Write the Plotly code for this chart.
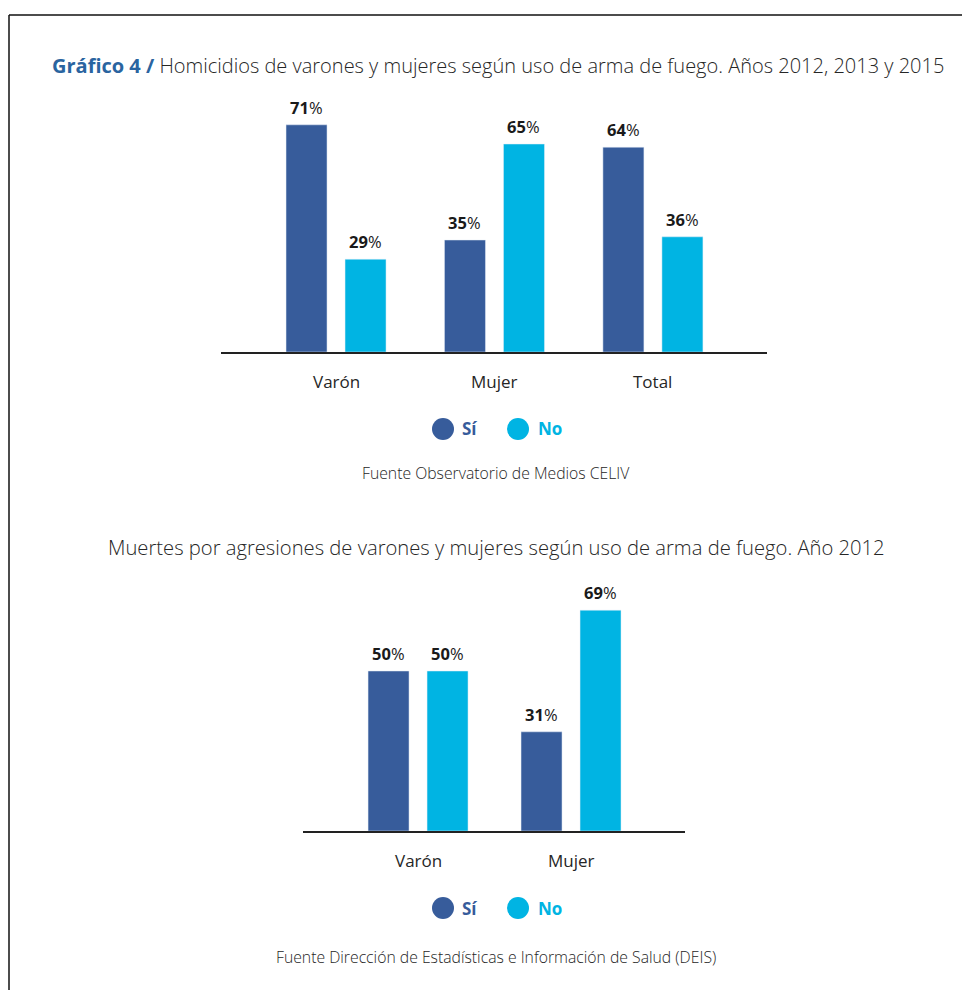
import plotly.graph_objects as go

# ---- data ----
cats1 = ["Varón", "Mujer", "Total"]
si1 = [71, 35, 64]
no1 = [29, 65, 36]

cats2 = ["Varón", "Mujer"]
si2 = [50, 31]
no2 = [50, 69]

series_names = ["Sí", "No"]
title1_bold = "Gráfico 4 /"
title1 = "Homicidios de varones y mujeres según uso de arma de fuego. Años 2012, 2013 y 2015"
title2 = "Muertes por agresiones de varones y mujeres según uso de arma de fuego. Año 2012"
source1 = "Fuente Observatorio de Medios CELIV"
source2 = "Fuente Dirección de Estadísticas e Información de Salud (DEIS)"

# ---- style ----
W, H = 970, 990
PAGE_OFF = 8  # default body margin of the html page
C_SI = "#375C9B"
C_NO = "#00B4E3"
C_TITLE = "#2A64A0"
TXT = "#262626"
FONT = "Open Sans"

def px_x(p):
    return (p - PAGE_OFF) / W

def px_y(p):
    return (H - (p - PAGE_OFF)) / H

fig = go.Figure()

panels = [
    dict(cats=cats1, si=si1, no=no1, xa="x", ya="y", x0=221, x1=767, base=352,
         rng=[-0.726, 2.72], unit=158.4, legend_y=429, source=source1, source_y=473,
         label_y=381),
    dict(cats=cats2, si=si2, no=no2, xa="x2", ya="y2", x0=303, x1=685, base=831,
         rng=[-0.752, 1.745], unit=153.0, legend_y=908, source=source2, source_y=957,
         label_y=860),
]

annotations = []
shapes = []
YMAX = 80
PX_PER = 3.2

for i, p in enumerate(panels):
    n = len(p["cats"])
    off = 29.5 / p["unit"]
    bw = 41 / p["unit"]
    xs_si = [k - off for k in range(n)]
    xs_no = [k + off for k in range(n)]
    for xs, vals, col, nm in [(xs_si, p["si"], C_SI, series_names[0]),
                              (xs_no, p["no"], C_NO, series_names[1])]:
        fig.add_trace(go.Bar(x=xs, y=vals, width=bw, marker_color=col, name=nm,
                             showlegend=False, xaxis=p["xa"], yaxis=p["ya"],
                             hoverinfo="skip"))
        for xv, yv in zip(xs, vals):
            annotations.append(dict(x=xv, y=yv, xref=p["xa"], yref=p["ya"],
                                    text=f"<b>{yv}</b>%", showarrow=False,
                                    yanchor="bottom", yshift=4,
                                    font=dict(family=FONT, size=16.5, color="#1a1a1a")))
    # category labels
    for k, c in enumerate(p["cats"]):
        annotations.append(dict(x=k, y=px_y(p["label_y"]), xref=p["xa"], yref="paper",
                                text=c, showarrow=False, yanchor="middle",
                                font=dict(family=FONT, size=17, color=TXT)))
    # legend
    ly = p["legend_y"]
    for cx, tx, col, nm in [(443, 460, C_SI, series_names[0]), (518, 536, C_NO, series_names[1])]:
        shapes.append(dict(type="circle", xref="paper", yref="paper",
                           xsizemode="pixel", ysizemode="pixel",
                           xanchor=px_x(cx), yanchor=px_y(ly),
                           x0=-11, x1=11, y0=-11, y1=11,
                           fillcolor=col, line=dict(width=0)))
        annotations.append(dict(x=px_x(tx), y=px_y(ly), xref="paper", yref="paper",
                                text=f"<b>{nm}</b>", showarrow=False,
                                xanchor="left", yanchor="middle",
                                font=dict(family=FONT, size=17, color=col)))
    annotations.append(dict(x=px_x(496), y=px_y(p["source_y"]), xref="paper", yref="paper",
                            text=p["source"], showarrow=False, yanchor="middle",
                            font=dict(family=FONT, size=15.75, color=TXT, weight=300)))

# titles
annotations.append(dict(x=px_x(50), y=px_y(65), xref="paper", yref="paper",
                        text=f"<span style='color:{C_TITLE}'><b>{title1_bold}</b></span> {title1}",
                        showarrow=False, xanchor="left", yanchor="middle",
                        font=dict(family=FONT, size=20, color=TXT, weight=300)))
annotations.append(dict(x=px_x(496), y=px_y(547), xref="paper", yref="paper",
                        text=title2, showarrow=False, yanchor="middle",
                        font=dict(family=FONT, size=20.2, color=TXT, weight=300)))

# frame
shapes.append(dict(type="line", xref="paper", yref="paper",
                   x0=px_x(9), x1=px_x(9), y0=-0.05, y1=px_y(15),
                   line=dict(color="#111111", width=1.5)))
shapes.append(dict(type="line", xref="paper", yref="paper",
                   x0=px_x(9), x1=1.05, y0=px_y(15), y1=px_y(15),
                   line=dict(color="#111111", width=1.5)))

axis_common = dict(showgrid=False, zeroline=False, showticklabels=False, ticks="",
                   showline=True, linecolor="#222222", linewidth=1.5, fixedrange=True)
yaxis_common = dict(showgrid=False, zeroline=False, showticklabels=False, ticks="",
                    showline=False, range=[0, YMAX], fixedrange=True)

p1, p2 = panels
fig.update_layout(
    width=W, height=H,
    margin=dict(l=0, r=0, t=0, b=0),
    paper_bgcolor="white", plot_bgcolor="white",
    barmode="overlay",
    showlegend=False,
    xaxis=dict(domain=[px_x(p1["x0"]), px_x(p1["x1"])], range=p1["rng"], anchor="y", **axis_common),
    yaxis=dict(domain=[px_y(p1["base"]), px_y(p1["base"] - YMAX * PX_PER)], anchor="x", **yaxis_common),
    xaxis2=dict(domain=[px_x(p2["x0"]), px_x(p2["x1"])], range=p2["rng"], anchor="y2", **axis_common),
    yaxis2=dict(domain=[px_y(p2["base"]), px_y(p2["base"] - YMAX * PX_PER)], anchor="x2", **yaxis_common),
    annotations=annotations,
    shapes=shapes,
)

fig.write_html("out.html", config={"displayModeBar": False})
